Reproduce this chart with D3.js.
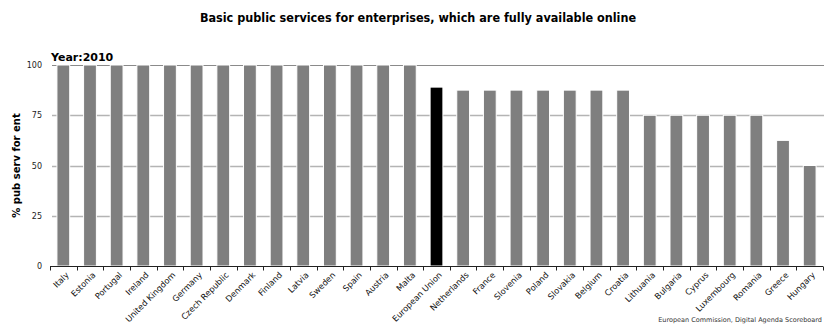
<!DOCTYPE html>
<html>
<head>
<meta charset="utf-8">
<script src="https://cdn.jsdelivr.net/npm/d3@7/dist/d3.min.js"></script>
<style>
  html, body { margin: 0; padding: 0; background: #fff; }
  svg { display: block; }
</style>
</head>
<body>
<svg id="chart" width="834" height="325"></svg>
<script>
// Countries, ordered as shown
const countries = ["Italy", "Estonia", "Portugal", "Ireland", "United Kingdom", "Germany",
  "Czech Republic", "Denmark", "Finland", "Latvia", "Sweden", "Spain", "Austria", "Malta",
  "European Union", "Netherlands", "France", "Slovenia", "Poland", "Slovakia", "Belgium",
  "Croatia", "Lithuania", "Bulgaria", "Cyprus", "Luxembourg", "Romania", "Greece", "Hungary"];

// Share of basic public services for enterprises fully available online (%), 2010
const values = [100, 100, 100, 100, 100, 100, 100, 100, 100, 100, 100, 100, 100, 100,
  89, 87.5, 87.5, 87.5, 87.5, 87.5, 87.5, 87.5, 75, 75, 75, 75, 75, 62.5, 50];

const yTicks = [0, 25, 50, 75, 100];
const highlight = "European Union";

const svg = d3.select("#chart");
const margin = { left: 50, right: 11, top: 65, bottom: 59 };
const W = 834, H = 325;
const innerW = W - margin.left - margin.right;
const innerH = H - margin.top - margin.bottom;

const x = d3.scaleBand().domain(countries).range([margin.left, margin.left + innerW])
  .paddingInner(0.52).paddingOuter(0.26);
const y = d3.scaleLinear().domain([0, 100]).range([margin.top + innerH, margin.top]);

const font = "'DejaVu Sans', Verdana, sans-serif";

// Title
svg.append("text")
  .attr("x", 418).attr("y", 22)
  .attr("text-anchor", "middle")
  .attr("font-family", "'DejaVu Sans Condensed', 'DejaVu Sans', sans-serif")
  .attr("font-weight", "bold")
  .attr("font-size", 12.5)
  .attr("fill", "#000")
  .text("Basic public services for enterprises, which are fully available online");

// Horizontal gridlines
svg.append("g").selectAll("line")
  .data(yTicks.filter(d => d > 0))
  .join("line")
  .attr("x1", margin.left + 2).attr("x2", margin.left + innerW + 1)
  .attr("y1", d => Math.round(y(d)) + 0.5).attr("y2", d => Math.round(y(d)) + 0.5)
  .attr("stroke", d => d === 100 ? "#8a8a8a" : "#b4b4b4")
  .attr("stroke-width", d => d === 100 ? 1 : 1.3);

// Y tick labels
const yAxis = d3.axisLeft(y).tickValues(yTicks).tickSize(0).tickPadding(8);
const gy = svg.append("g").attr("transform", `translate(${margin.left},0)`).call(yAxis);
gy.select(".domain").remove();
gy.selectAll("text").attr("font-family", font).attr("font-size", 8).attr("fill", "#222");

// Bars
svg.append("g").selectAll("rect")
  .data(countries.map((c, i) => ({ c, v: values[i] })))
  .join("rect")
  .attr("x", d => x(d.c))
  .attr("width", x.bandwidth())
  .attr("y", d => y(d.v))
  .attr("height", d => y(0) - y(d.v))
  .attr("fill", d => d.c === highlight ? "#000" : "#7f7f7f")
  .attr("stroke", "#fff")
  .attr("stroke-width", 1);

// X axis with ticks at band boundaries
const base = Math.round(y(0)) + 0.5;
const gx = svg.append("g");
gx.append("line")
  .attr("x1", margin.left).attr("x2", margin.left + innerW)
  .attr("y1", base).attr("y2", base)
  .attr("stroke", "#222").attr("stroke-width", 1);
const bounds = d3.range(countries.length + 1).map(i => margin.left + i * innerW / countries.length);
gx.selectAll("line.tick")
  .data(bounds)
  .join("line")
  .attr("class", "tick")
  .attr("x1", d => Math.round(d) + 0.5).attr("x2", d => Math.round(d) + 0.5)
  .attr("y1", base).attr("y2", base + 4)
  .attr("stroke", "#222");

// Rotated category labels
gx.selectAll("text")
  .data(countries)
  .join("text")
  .attr("transform", d => `translate(${x(d) + x.bandwidth() / 2 + 4},${base + 7}) rotate(-45)`)
  .attr("text-anchor", "end")
  .attr("dy", "0.35em")
  .attr("font-family", font)
  .attr("font-size", 8.3)
  .attr("fill", "#111")
  .text(d => d);

// Y axis title
svg.append("text")
  .attr("transform", `translate(20,${y(50)}) rotate(-90)`)
  .attr("text-anchor", "middle")
  .attr("font-family", font)
  .attr("font-weight", "bold")
  .attr("font-size", 10)
  .attr("fill", "#000")
  .text("% pub serv for ent");

// Year label
svg.append("text")
  .attr("x", margin.left + 1).attr("y", 61)
  .attr("font-family", font)
  .attr("font-weight", "bold")
  .attr("font-size", 11)
  .attr("fill", "#000")
  .text("Year:2010");

// Source note
svg.append("text")
  .attr("x", 822).attr("y", 322)
  .attr("text-anchor", "end")
  .attr("font-family", font)
  .attr("font-size", 6.5)
  .attr("fill", "#333")
  .text("European Commission, Digital Agenda Scoreboard");
</script>
</body>
</html>
